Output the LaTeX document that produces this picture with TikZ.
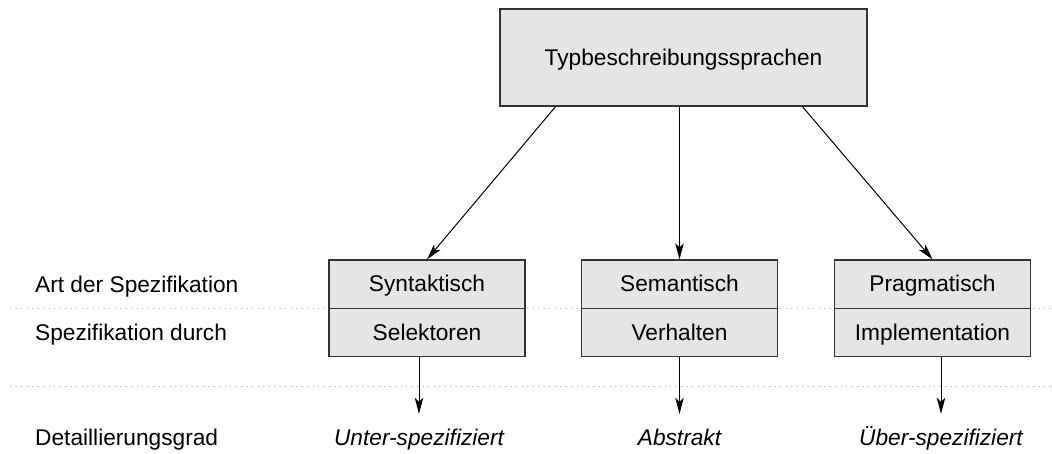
\documentclass[tikz,border=0pt]{standalone}
\usepackage{fontspec}
\setmainfont{Liberation Sans}
\usetikzlibrary{arrows.meta,calc}

\tikzset{
  x=1pt, y=-1pt,
  every node/.style={font=\fontsize{22.7}{27}\selectfont, inner sep=0pt},
  box/.style={draw=black!80, fill=black!10, line width=1.1pt, minimum width=196, minimum height=48.5,
              text height=19.5, text depth=4.5},
  topbox/.style={draw=black!80, fill=black!10, line width=1.1pt, minimum width=367, minimum height=97,
                 text height=19.5, text depth=4.5},
  rowlabel/.style={anchor=base west},
  outcome/.style={anchor=base, font=\fontsize{22.7}{27}\selectfont\itshape, text height=17, text depth=5},
  arr/.style={-{Stealth[length=16pt,width=8.5pt,inset=4pt]}, line width=1pt},
  guide/.style={draw=black!30, line width=0.7pt, dash pattern=on 0.8pt off 4.7pt}
}

\begin{document}
\begin{tikzpicture}
\useasboundingbox (0,0) rectangle (1052,453);

% dotted row guides
\draw[guide] (10,308.3) -- (1052,308.3);
\draw[guide] (10,386.7) -- (1052,386.7);

% root
\node[topbox] (top) at (683.5,57.5) {Typbeschreibungssprachen};

% categories: kind of specification / specified by
\node[box] (syn) at (427,284.2) {Syntaktisch};
\node[box] (sel) at (427,332.5) {Selektoren};
\node[box] (sem) at (679.5,284.2) {Semantisch};
\node[box] (ver) at (679.5,332.5) {Verhalten};
\node[box] (pra) at (932.5,284.2) {Pragmatisch};
\node[box] (imp) at (932.5,332.5) {Implementation};

% row captions
\node[rowlabel] (r1) at (35,292.3) {Art der Spezifikation};
\node[rowlabel] (r2) at (35,340.5) {Spezifikation durch};
\node[rowlabel] (r3) at (35,445) {Detaillierungsgrad};

% degree of detail
\node[outcome] (un) at (419,445) {Unter-spezifiziert};
\node[outcome] (ab) at (679.5,445) {Abstrakt};
\node[outcome] (ue) at (941,445) {Über-spezifiziert};

% arrows from the root
\draw[arr] ($(top.south west)!0.1526!(top.south east)$) -- (syn.north);
\draw[arr] (top.south -| sem.north) -- (sem.north);
\draw[arr] ($(top.south west)!0.823!(top.south east)$) -- (pra.north);

% arrows to the degree of detail
\draw[arr, shorten >=14pt] (sel.south -| un.north) -- (un.north);
\draw[arr, shorten >=14pt] (ver.south -| ab.north) -- (ab.north);
\draw[arr, shorten >=14pt] (imp.south -| ue.north) -- (ue.north);
\end{tikzpicture}
\end{document}
